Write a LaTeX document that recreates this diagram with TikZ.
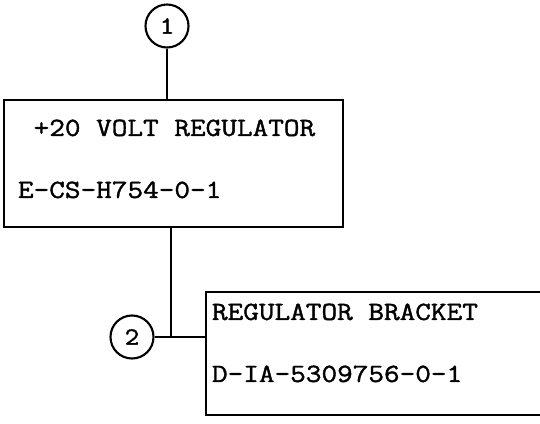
\documentclass[tikz,border=0pt]{standalone}
\usepackage{fontspec}
\setmonofont{Latin Modern Mono}[FakeStretch=1.16, FakeBold=1.5]
\usepackage{tikz}
\usetikzlibrary{positioning, calc}
\tikzset{every node/.append style={inner sep=0pt}}

\begin{document}
\begin{tikzpicture}[line width=1.2pt,
    part/.style={rectangle, draw, minimum width=6.78cm, minimum height=2.54cm},
    tag/.style={circle, draw, minimum size=0.86cm, font=\ttfamily\fontsize{14}{14}\selectfont},
    lbl/.style={anchor=base west, font=\ttfamily\fontsize{14.9}{14.9}\selectfont}]
\clip (0,0) rectangle (10.8,-8.46);
\node[tag] (c1) at (3.34,-0.52) {1};
\node[part] (reg) at (3.47,-3.27) {};
\node[lbl] (regname) at ([shift={(0.28,-0.74)}]reg.north west) {~+20 VOLT REGULATOR};
\node[lbl] (regdwg) at ([shift={(0.28,-1.98)}]reg.north west) {E-CS-H754-0-1};
\coordinate (tee) at (3.42,-6.74);
\node[tag] (c2) at (2.64,-6.74) {2};
\node[part, minimum width=7.28cm, minimum height=2.46cm] (brk) at (7.76,-7.07) {};
\node[lbl] (brkname) at ([shift={(0.12,-0.58)}]brk.north west) {REGULATOR BRACKET};
\node[lbl] (brkdwg) at ([shift={(0.12,-1.82)}]brk.north west) {D-IA-5309756-0-1};
\draw (c1) -- (c1 |- reg.north);
\draw (reg.south -| tee) -- (tee);
\draw (c2) -- (c2 -| brk.west);
\end{tikzpicture}
\end{document}
